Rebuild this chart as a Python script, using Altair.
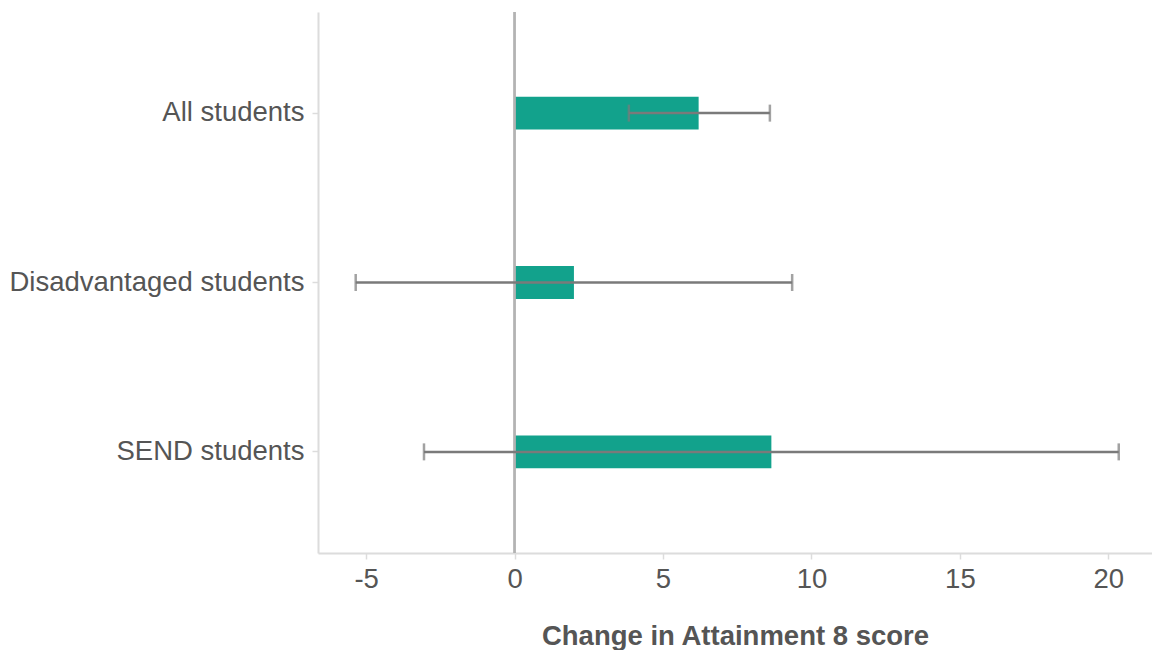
import altair as alt
import pandas as pd

# Estimated change in Attainment 8 score with confidence interval bounds
groups = ["All students", "Disadvantaged students", "SEND students"]
estimate = [6.2, 2.0, 8.65]
ci_low = [3.85, -5.35, -3.05]
ci_high = [8.6, 9.35, 20.35]

df = pd.DataFrame({"group": groups, "estimate": estimate, "low": ci_low, "high": ci_high})

x_scale = alt.Scale(domain=[-6.62, 21.47], nice=False, zero=False)
y_scale = alt.Scale(paddingInner=0.806, paddingOuter=0.5)

y_enc = alt.Y(
    "group:N",
    sort=groups,
    scale=y_scale,
    axis=alt.Axis(title=None, labelPadding=8, tickSize=6, labelLimit=400),
)

bars = alt.Chart(df).mark_bar(color="#12A28C").encode(
    x=alt.X(
        "estimate:Q",
        scale=x_scale,
        axis=alt.Axis(
            values=[-5, 0, 5, 10, 15, 20],
            labelExpr="'' + datum.value",
            title="Change in Attainment 8 score",
            titleFontWeight="bold",
            titleFontSize=27.5,
            titlePadding=30,
            tickSize=6,
            labelPadding=6,
        ),
    ),
    y=y_enc,
)

zero_line = alt.Chart(df).mark_rule(color="#b3b3b3", strokeWidth=2).encode(
    x=alt.datum(0, scale=x_scale)
)

whisker = alt.Chart(df).mark_rule(color="#7a7a7a", strokeWidth=2.5).encode(
    x=alt.X("low:Q", scale=x_scale),
    x2="high:Q",
    y=alt.Y("group:N", sort=groups, scale=y_scale),
)

cap_low = alt.Chart(df).mark_tick(color="#7a7a7a", thickness=2.5, size=17).encode(
    x=alt.X("low:Q", scale=x_scale),
    y=alt.Y("group:N", sort=groups, scale=y_scale),
)

cap_high = alt.Chart(df).mark_tick(color="#7a7a7a", thickness=2.5, size=17).encode(
    x=alt.X("high:Q", scale=x_scale),
    y=alt.Y("group:N", sort=groups, scale=y_scale),
)

chart = (
    alt.layer(bars, zero_line, whisker, cap_low, cap_high)
    .properties(
        width=834,
        height=541,
        autosize=alt.AutoSizeParams(type="none"),
        padding={"left": 318, "top": 12, "right": 0, "bottom": 97},
    )
    .configure_view(stroke=None)
    .configure_axis(
        grid=False,
        domainColor="#dcdcdc",
        domainWidth=2,
        tickColor="#dcdcdc",
        tickWidth=1.5,
        labelColor="#555555",
        titleColor="#555555",
        labelFont="Liberation Sans",
        titleFont="Liberation Sans",
        labelFontSize=27.5,
    )
)

chart.save("out.html", embed_options={"renderer": "svg", "actions": False})
